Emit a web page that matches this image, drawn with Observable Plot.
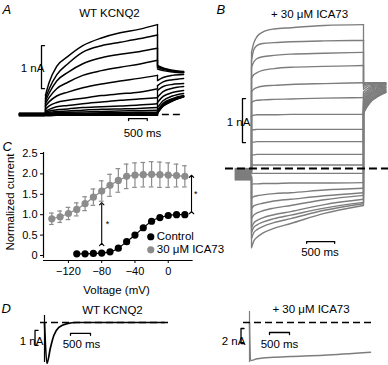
<!DOCTYPE html>
<html><head><meta charset="utf-8">
<script src="https://cdn.jsdelivr.net/npm/d3@7"></script>
<script src="https://cdn.jsdelivr.net/npm/@observablehq/plot@0.6"></script>
<style>
html,body{margin:0;padding:0;background:#fff;}
#fig{position:relative;width:388px;height:365px;overflow:hidden;font-family:"Liberation Sans",Arial,sans-serif;}
#fig svg{position:absolute;left:0;top:0;}
</style></head><body><div id="fig"></div>
<script>
// ---------- Panel C data ----------
const voltsICA = [-140,-130,-120,-110,-100,-90,-80,-70,-60,-50,-40,-30,-20,-10,0,10,20];
const meanICA  = [0.90,0.95,1.03,1.13,1.27,1.43,1.58,1.72,1.84,1.94,1.97,1.98,1.99,1.98,1.97,1.96,1.94];
const semICA   = [0.14,0.14,0.15,0.16,0.17,0.20,0.25,0.27,0.29,0.30,0.30,0.30,0.31,0.31,0.30,0.28,0.26];
const voltsCtl = [-110,-100,-90,-80,-70,-60,-50,-40,-30,-20,-10,0,10,20];
const meanCtl  = [0.04,0.04,0.05,0.06,0.09,0.18,0.34,0.50,0.68,0.84,0.93,0.98,1.00,1.00];
const yTicksC = [0,0.5,1,1.5,2,2.5];
const xTicksC = [-120,-80,-40,0];
const arrowsC = [{v:-80, lo:0.27, hi:1.27}, {v:28, lo:1.05, hi:1.94}];
const starsC  = [{v:-73, y:0.77}, {v:33, y:1.5}];
const legendNames = ["Control","30 μM ICA73"];

// ---------- Panel A data (WT KCNQ2), time ms, current nA ----------
const tA = [0,100,300,600,1000,1500,2000,2500,3000];
const stepA = [
 [0.45,0.75,1.12,1.35,1.60,1.78,1.90,1.98,2.09],
 [0.38,0.60,0.92,1.18,1.45,1.60,1.68,1.76,1.85],
 [0.32,0.50,0.78,0.98,1.18,1.32,1.40,1.46,1.54],
 [0.26,0.40,0.60,0.75,0.91,1.02,1.10,1.17,1.26],
 [0.20,0.30,0.43,0.52,0.62,0.71,0.78,0.84,0.91],
 [0.12,0.20,0.28,0.33,0.38,0.44,0.48,0.52,0.60],
 [0.08,0.12,0.18,0.21,0.25,0.29,0.33,0.36,0.39],
 [0.05,0.08,0.11,0.13,0.16,0.18,0.20,0.22,0.25],
 [0.03,0.05,0.07,0.08,0.10,0.12,0.13,0.14,0.16],
 [0.02,0.03,0.04,0.05,0.06,0.07,0.08,0.09,0.10],
 [0.01,0.02,0.02,0.03,0.03,0.04,0.04,0.05,0.05],
 [0.01,0.01,0.01,0.02,0.02,0.02,0.02,0.03,0.03],
 [0.00,0.00,0.01,0.01,0.01,0.01,0.01,0.01,0.01],
 [-0.01,-0.01,0.00,0.00,0.00,0.00,0.00,0.00,0.00],
 [-0.02,-0.02,-0.01,-0.01,-0.01,-0.01,-0.01,-0.01,-0.01],
 [-0.03,-0.03,-0.02,-0.02,-0.02,-0.02,-0.02,-0.02,-0.02]
];
const tTailA = [3000,3150,3400,3700];
const tailA = [
 [1.14,1.08,1.03,1.00],[1.12,1.07,1.02,0.99],[1.10,1.05,1.01,0.98],[1.06,1.02,0.99,0.97],
 [0.79,0.86,0.91,0.93],[0.67,0.76,0.81,0.84],[0.56,0.65,0.70,0.72],[0.40,0.53,0.61,0.65],
 [0.28,0.42,0.51,0.56],[0.16,0.32,0.43,0.49],[0.09,0.26,0.37,0.44],[0.07,0.23,0.35,0.43],
 [0.06,0.22,0.34,0.42],[0.05,0.21,0.33,0.42],[0.04,0.20,0.32,0.41],[0.03,0.19,0.31,0.41]
];
const holdA = [0.03,0.02,0.01,0.0,-0.01,-0.02,-0.03,0.025,0.015,0.005,-0.005,-0.015,-0.025,0.02,-0.02,0.0];

// ---------- Panel B data (+30 μM ICA73) ----------
const tB = [0,40,100,200,400,700,1300,2000];
const stepB = [
 [2.64,2.85,3.00,3.10,3.17,3.20,3.25,3.27],
 [2.45,2.70,2.80,2.84,2.86,2.88,2.90,2.91],
 [2.30,2.42,2.50,2.54,2.57,2.60,2.62,2.64],
 [2.05,2.13,2.18,2.23,2.27,2.30,2.32,2.34],
 [1.75,1.80,1.84,1.87,1.89,1.91,1.93,1.95],
 [1.50,1.53,1.55,1.56,1.57,1.58,1.60,1.61],
 [1.20,1.21,1.22,1.22,1.22,1.23,1.23,1.23],
 [0.88,0.88,0.89,0.89,0.89,0.89,0.89,0.89],
 [0.60,0.60,0.61,0.61,0.61,0.61,0.61,0.61],
 [0.31,0.31,0.32,0.32,0.32,0.32,0.32,0.32],
 [0.08,0.08,0.08,0.08,0.08,0.08,0.08,0.08],
 [-0.11,-0.11,-0.11,-0.11,-0.11,-0.11,-0.11,-0.11],
 [-0.36,-0.35,-0.35,-0.34,-0.34,-0.33,-0.33,-0.32],
 [-0.68,-0.64,-0.62,-0.60,-0.57,-0.55,-0.49,-0.45],
 [-0.91,-0.85,-0.82,-0.79,-0.74,-0.70,-0.62,-0.55],
 [-1.14,-1.06,-1.01,-0.96,-0.90,-0.84,-0.71,-0.61],
 [-1.34,-1.24,-1.18,-1.12,-1.05,-0.98,-0.82,-0.70],
 [-1.45,-1.34,-1.28,-1.22,-1.14,-1.06,-0.90,-0.77],
 [-1.59,-1.46,-1.39,-1.32,-1.23,-1.14,-0.95,-0.80],
 [-1.80,-1.65,-1.56,-1.47,-1.36,-1.25,-1.02,-0.84]
];
const tTailB = [2000,2050,2120,2250,2400];
const tailB = [
 [1.95,1.95,1.95,1.95,1.95],[1.93,1.94,1.94,1.94,1.94],[1.90,1.92,1.93,1.93,1.93],
 [1.86,1.89,1.91,1.92,1.92],[1.80,1.85,1.88,1.90,1.91],[1.74,1.80,1.85,1.88,1.90],
 [1.68,1.75,1.82,1.86,1.88],[1.62,1.71,1.79,1.84,1.87],[1.57,1.67,1.76,1.82,1.85],
 [1.52,1.63,1.73,1.80,1.84],[1.48,1.60,1.71,1.78,1.83],[1.44,1.56,1.68,1.76,1.81],
 [1.40,1.53,1.65,1.74,1.80],[1.37,1.50,1.62,1.72,1.78],[1.34,1.47,1.60,1.70,1.77],
 [1.31,1.44,1.57,1.68,1.76],[1.29,1.42,1.55,1.66,1.75],[1.27,1.40,1.53,1.65,1.74],
 [1.26,1.38,1.51,1.64,1.73],[1.25,1.37,1.50,1.63,1.73]
];
const holdB = [0,-0.014,-0.028,-0.041,-0.055,-0.068,-0.082,-0.095,-0.11,-0.123,-0.137,-0.15,-0.164,-0.178,-0.191,-0.205,-0.218,-0.232,-0.246,-0.26];

// ---------- Panel D data ----------
const tD1 = [0,60,150,233,358,567,800,3000];
const iD1 = [0,-2.73,-1.67,-0.87,-0.33,-0.07,0,0];
const tD2 = [0,25,190,600,1025,1850,3025];
const iD2 = [0,-5.07,-4.84,-4.63,-4.53,-4.36,-3.96];

// ---------- helpers ----------
const FONT = '"Liberation Sans", Arial, sans-serif';
const GRAY_B = "#7d7d7d", GRAY_C = "#8c8c8c";
const baseStyle = {background:"transparent", overflow:"visible", fontFamily:FONT, fontSize:"11px"};
const W = 388, H = 365;
const fig = document.getElementById("fig");
function rows(arrs, times){ return arrs.flatMap((vals,i)=>vals.map((v,j)=>({id:i,t:times[j],I:v}))); }

// ---------- Panel A ----------
{
  const k = 112/3000, x0 = 45, y0 = 114, ky = 43;
  const tr = stepA.map((s,i)=>({id:i, hold:holdA[i], step:s, tail:tailA[i]}));
  const p = Plot.plot({
    width:W, height:H, margin:0, style:baseStyle,
    x:{domain:[-700,3700], range:[x0-700*k, x0+3700*k], axis:null},
    y:{domain:[-1,3], range:[y0+ky, y0-3*ky], axis:null},
    marks:[
      Plot.ruleY([0], {x1:-700, x2:3700, stroke:"black", strokeWidth:1.6, strokeDasharray:"7,4"}),
      Plot.ruleY(tr, {y:"hold", x1:-700, x2:0, stroke:"black", strokeWidth:1.4}),
      Plot.ruleX(tr, {x:0, y1:"hold", y2:d=>d.step[0], stroke:"black", strokeWidth:1.2}),
      Plot.line(rows(stepA,tA), {x:"t", y:"I", z:"id", stroke:"black", strokeWidth:1.5, curve:"monotone-x"}),
      Plot.ruleX(tr, {x:3000, y1:d=>d.step[d.step.length-1], y2:d=>d.tail[0], stroke:"black", strokeWidth:1.3}),
      Plot.line(rows(tailA,tTailA), {x:"t", y:"I", z:"id", stroke:"black", strokeWidth:1.5, curve:"monotone-x"}),
      Plot.line([{t:-27,I:1.6},{t:-107,I:1.6},{t:-107,I:0.6},{t:-27,I:0.6}], {x:"t", y:"I", stroke:"black", strokeWidth:1.3}),
      Plot.line([{t:2225,I:-0.14},{t:2225,I:-0.095},{t:2725,I:-0.095},{t:2725,I:-0.14}], {x:"t", y:"I", stroke:"black", strokeWidth:1.3})
    ]
  });
  fig.appendChild(p);
}

// ---------- Panel B ----------
{
  const k = 0.056, x0 = 251, y0 = 168, ky = 44;
  const tr = stepB.map((s,i)=>({id:i, hold:holdB[i], step:s, tail:tailB[i]}));
  const p = Plot.plot({
    width:W, height:H, margin:0, style:baseStyle,
    x:{domain:[-500,2500], range:[x0-500*k, x0+2500*k], axis:null},
    y:{domain:[-3,4], range:[y0+3*ky, y0-4*ky], axis:null},
    marks:[
      Plot.ruleY(tr, {y:"hold", x1:-290, x2:0, stroke:GRAY_B, strokeWidth:1.3}),
      Plot.ruleX(tr, {x:0, y1:"hold", y2:d=>d.step[0], stroke:GRAY_B, strokeWidth:1.3}),
      Plot.line(rows(stepB,tB), {x:"t", y:"I", z:"id", stroke:GRAY_B, strokeWidth:1.4, curve:"monotone-x"}),
      Plot.ruleX(tr, {x:2000, y1:d=>d.step[d.step.length-1], y2:d=>d.tail[0], stroke:GRAY_B, strokeWidth:1.3}),
      Plot.line(rows(tailB,tTailB), {x:"t", y:"I", z:"id", stroke:GRAY_B, strokeWidth:1.3, curve:"monotone-x"}),
      Plot.ruleY([0], {x1:-465, x2:2450, stroke:"black", strokeWidth:1.8, strokeDasharray:"8,4"}),
      Plot.line([{t:-107,I:1.59},{t:-161,I:1.59},{t:-161,I:0.59},{t:-107,I:0.59}], {x:"t", y:"I", stroke:"black", strokeWidth:1.3}),
      Plot.line([{t:985,I:-1.70},{t:985,I:-1.66},{t:1485,I:-1.66},{t:1485,I:-1.70}], {x:"t", y:"I", stroke:"black", strokeWidth:1.3})
    ]
  });
  fig.appendChild(p);
}

// ---------- Panel C ----------
{
  const ica = voltsICA.map((v,i)=>({v, m:meanICA[i], e:semICA[i]}));
  const ctl = voltsCtl.map((v,i)=>({v, m:meanCtl[i]}));
  const p = Plot.plot({
    width:W, height:H, marginLeft:43, marginRight:W-196, marginTop:152, marginBottom:H-260,
    style:baseStyle,
    x:{domain:[-150,34]},
    y:{domain:[-0.1225,2.5245]},
    marks:[
      Plot.ruleX([-150], {y1:-0.07, y2:2.5245, stroke:"black", strokeWidth:1.2}),
      Plot.ruleY([-0.1225], {x1:-150, x2:30, stroke:"black", strokeWidth:1.2}),
      Plot.axisY({ticks:yTicksC, tickFormat:d=>d===0?"0":d.toFixed(1), tickSize:3, tickPadding:3, label:null, fontSize:11}),
      Plot.axisX({ticks:xTicksC, tickSize:3, tickPadding:4, label:null, fontSize:11}),
      Plot.ruleX(ica, {x:"v", y1:d=>d.m-d.e, y2:d=>d.m+d.e, stroke:GRAY_C, strokeWidth:1.2}),
      Plot.ruleY(ica, {y:d=>d.m+d.e, x1:d=>d.v-2.8, x2:d=>d.v+2.8, stroke:GRAY_C, strokeWidth:1.2}),
      Plot.ruleY(ica, {y:d=>d.m-d.e, x1:d=>d.v-2.8, x2:d=>d.v+2.8, stroke:GRAY_C, strokeWidth:1.2}),
      Plot.line(ica, {x:"v", y:"m", stroke:GRAY_C, strokeWidth:1.2}),
      Plot.dot(ica, {x:"v", y:"m", r:3.6, fill:GRAY_C}),
      Plot.line(ctl, {x:"v", y:"m", stroke:"black", strokeWidth:1.2, curve:"monotone-x"}),
      Plot.dot(ctl, {x:"v", y:"m", r:3.6, fill:"black"}),
      Plot.link(arrowsC, {x1:"v", x2:"v", y1:"lo", y2:"hi", stroke:"black", strokeWidth:1.1, marker:"arrow"}),
      Plot.text(starsC, {x:"v", y:"y", text:()=>"*", fontSize:9}),
      Plot.dot([legendNames[0]], {x:-21, y:0.46, r:3.6, fill:"black"}),
      Plot.dot([legendNames[1]], {x:-21, y:0.14, r:3.6, fill:GRAY_C}),
      Plot.text([legendNames[0]], {x:-21, y:0.46, text:d=>d, dx:6, textAnchor:"start", fontSize:11.5}),
      Plot.text([legendNames[1]], {x:-21, y:0.14, text:d=>d, dx:6, textAnchor:"start", fontSize:11.5})
    ]
  });
  fig.appendChild(p);
}

// ---------- Panel D ----------
{
  const k = 0.04;
  const d1 = tD1.map((t,i)=>({t, I:iD1[i]}));
  const p1 = Plot.plot({
    width:W, height:H, margin:0, style:baseStyle,
    x:{domain:[0,3000], range:[44, 44+3000*k], axis:null},
    y:{domain:[-3,1], range:[322+45, 322-15], axis:null},
    marks:[
      Plot.line(d1, {x:"t", y:"I", stroke:"black", strokeWidth:1.7, curve:"monotone-x"}),
      Plot.ruleY([0], {x1:-100, x2:3150, stroke:"black", strokeWidth:1.6, strokeDasharray:"7,4"}),
      Plot.ruleX([0], {y1:0.47, y2:-2.67, stroke:"black", strokeWidth:1.2}),
      Plot.line([{t:-162,I:-0.53},{t:-237,I:-0.53},{t:-237,I:-1.53},{t:-162,I:-1.53}], {x:"t", y:"I", stroke:"black", strokeWidth:1.3}),
      Plot.line([{t:650,I:-0.85},{t:650,I:-0.73},{t:1150,I:-0.73},{t:1150,I:-0.85}], {x:"t", y:"I", stroke:"black", strokeWidth:1.3})
    ]
  });
  fig.appendChild(p1);
  const d2 = tD2.map((t,i)=>({t, I:iD2[i]}));
  const p2 = Plot.plot({
    width:W, height:H, margin:0, style:baseStyle,
    x:{domain:[0,3000], range:[249, 249+3000*k], axis:null},
    y:{domain:[-6,2], range:[322+45, 322-15], axis:null},
    marks:[
      Plot.line(d2, {x:"t", y:"I", stroke:GRAY_B, strokeWidth:1.5, curve:"monotone-x"}),
      Plot.ruleX([0], {y1:1.47, y2:-5.33, stroke:GRAY_B, strokeWidth:1.2}),
      Plot.ruleY([0], {x1:-150, x2:3100, stroke:"black", strokeWidth:1.6, strokeDasharray:"7,4"}),
      Plot.line([{t:-137,I:-0.8},{t:-212,I:-0.8},{t:-212,I:-2.8},{t:-137,I:-2.8}], {x:"t", y:"I", stroke:"black", strokeWidth:1.3}),
      Plot.line([{t:500,I:-1.6},{t:500,I:-1.33},{t:1000,I:-1.33},{t:1000,I:-1.6}], {x:"t", y:"I", stroke:"black", strokeWidth:1.3})
    ]
  });
  fig.appendChild(p2);
}

// ---------- Text annotations ----------
{
  const letters = [{s:"A",x:2,y:9},{s:"B",x:216,y:9},{s:"C",x:2,y:146},{s:"D",x:1,y:308}];
  const labels = [
    {s:"WT KCNQ2",x:109,y:12.5,a:"middle"},
    {s:"1 nA",x:32,y:67.5,a:"end"},
    {s:"500 ms",x:142,y:133,a:"middle"},
    {s:"+ 30 μM ICA73",x:309,y:14,a:"middle"},
    {s:"1 nA",x:238,y:121.5,a:"end"},
    {s:"500 ms",x:319.5,y:252,a:"middle"},
    {s:"Voltage (mV)",x:116,y:289.5,a:"middle"},
    {s:"WT KCNQ2",x:112,y:310,a:"middle"},
    {s:"1 nA",x:31,y:340.5,a:"end"},
    {s:"500 ms",x:81,y:343.5,a:"middle"},
    {s:"+ 30 μM ICA73",x:310.5,y:309,a:"middle"},
    {s:"2 nA",x:233,y:340.5,a:"end"},
    {s:"500 ms",x:279,y:344,a:"middle"}
  ];
  const p = Plot.plot({
    width:W, height:H, margin:0, style:baseStyle,
    x:{domain:[0,W], range:[0,W], axis:null},
    y:{domain:[0,H], range:[0,H], axis:null},
    marks:[
      Plot.text(letters, {x:"x", y:"y", text:"s", textAnchor:"start", fontSize:13, fontStyle:"italic"}),
      Plot.text(labels, {x:"x", y:"y", text:"s", textAnchor:d=>d.a, fontSize:11.5}),
      Plot.text(["Normalized current"], {x:9.5, y:201.5, text:d=>d, rotate:-90, fontSize:11.5})
    ]
  });
  fig.appendChild(p);
}
</script></body></html>
